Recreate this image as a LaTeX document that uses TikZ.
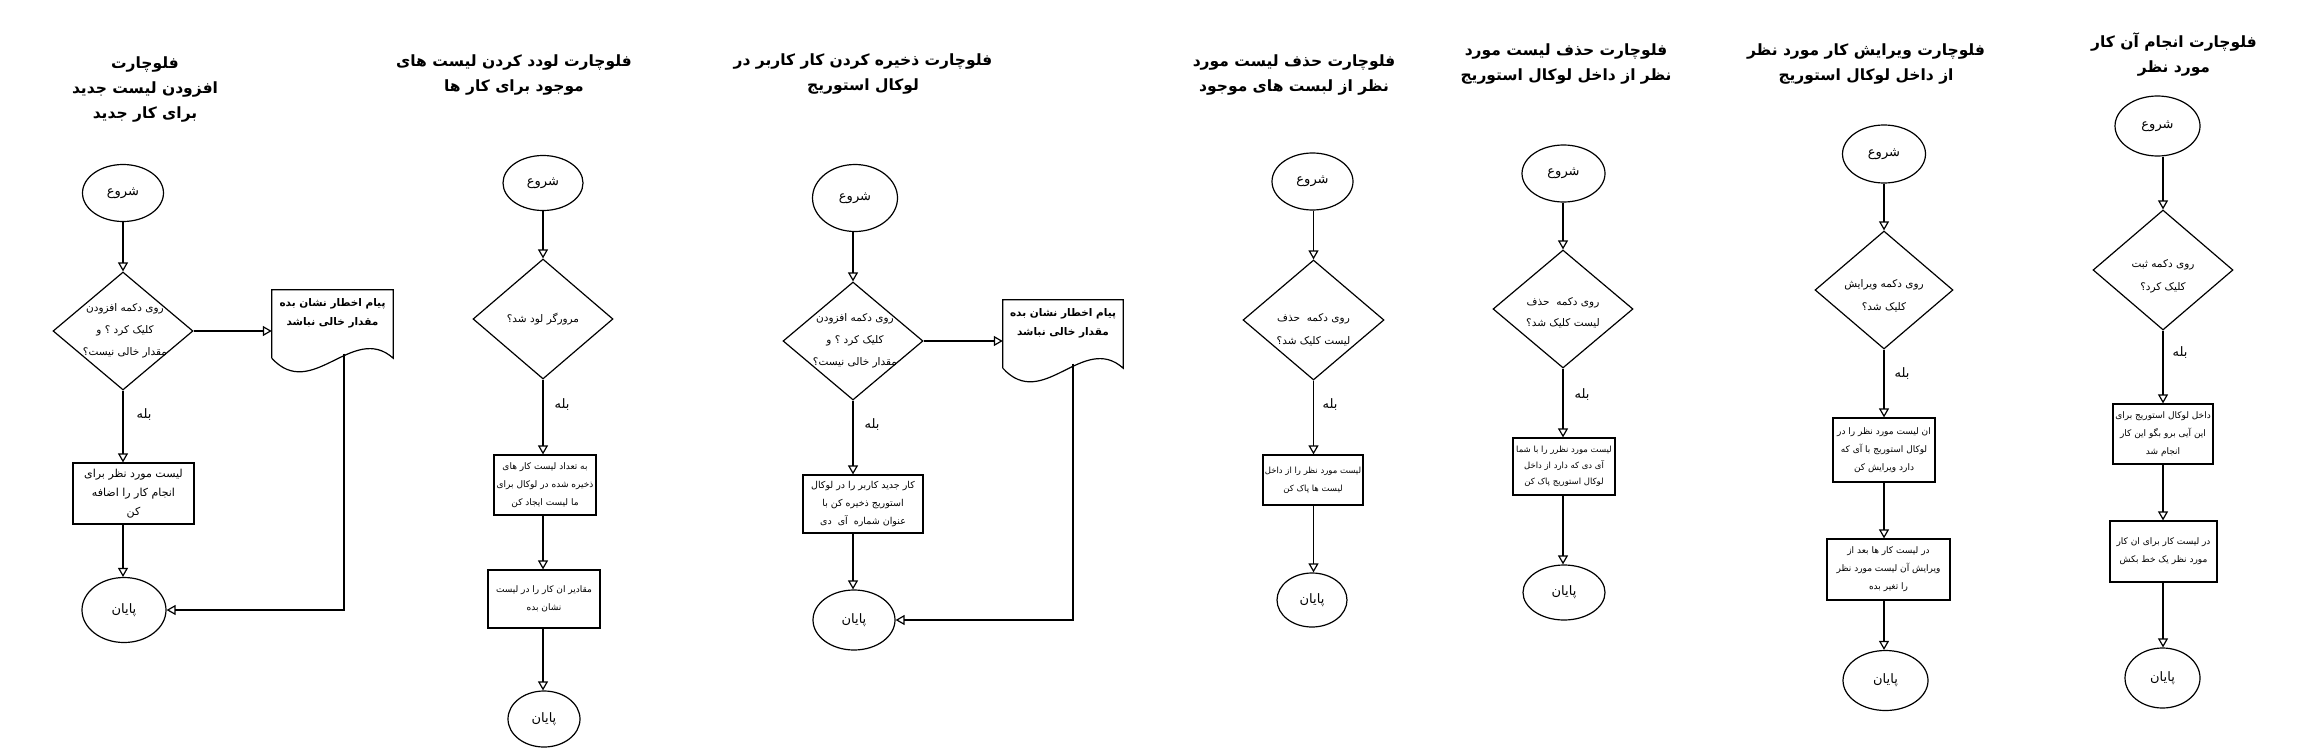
\documentclass[tikz,border=0pt]{standalone}
\usepackage{fontspec}
\usetikzlibrary{shapes.geometric,arrows.meta,calc}
\newfontfamily\fafont[Script=Arabic]{DejaVu Sans}
\TeXXeTstate=1
\newcommand{\prs}[1]{\beginR #1\endR}
\newcommand{\docshape}[1]{%
  \draw[line width=1.2pt] ($(#1.south west)+(0,-12)$) -- (#1.north west) -- (#1.north east)
    -- ($(#1.south east)+(0,-12)$) .. controls +(-40,-36) and +(40,44) .. ($(#1.south west)+(0,-12)$);}
\begin{document}
\begin{tikzpicture}[x=1pt,y=-1pt,
  arr/.style={line width=1.2pt,-{Triangle[open,length=9pt,width=10pt,line width=1.2pt]}},
  term/.style={ellipse,draw,line width=1.2pt,inner sep=0pt,font=\fafont\fontsize{13}{15}\selectfont},
  dec/.style={diamond,draw,line width=1.2pt,inner sep=0pt},
  dtxt/.style={align=center,inner sep=0pt,font=\fafont\fontsize{10.5}{22}\selectfont},
  proc/.style={rectangle,draw,line width=1.2pt,inner sep=0pt,align=center,font=\fafont\fontsize{9}{18}\selectfont},
  docb/.style={rectangle,inner sep=0pt},
  dctxt/.style={align=center,inner sep=0pt,font=\fafont\bfseries\fontsize{10.5}{19}\selectfont},
  ttl/.style={align=center,inner sep=0pt,font=\fafont\bfseries\fontsize{15.5}{25}\selectfont},
  yeslbl/.style={inner sep=0pt,font=\fafont\fontsize{13}{15}\selectfont}]
\useasboundingbox[fill=white] (0,0) rectangle (2301,752);

% ---------- chart 1 ----------
\node[ttl] (t1) at (145,90) {\prs{فلوچارت}\\\prs{افزودن لیست جدید}\\\prs{برای کار جدید}};
\node[term,minimum width=81pt,minimum height=57pt] (s1) at (123,193) {\prs{شروع}};
\node[dec,minimum width=140pt,minimum height=118pt] (d1) at (123,331) {};
\node[dtxt] (d1t) at (125,331) {\prs{روی دکمه افزودن}\\\prs{کلیک کرد ؟ و}\\\prs{مقدار خالی نیست؟}};
\node[docb,minimum width=121pt,minimum height=80pt] (doc1) at (332.5,330) {};
\docshape{doc1}
\node[dctxt,anchor=north] (doc1t) at ([yshift=-9pt]doc1.north) {\prs{پیام اخطار نشان بده}\\\prs{مقدار خالی نباشد}};
\node[yeslbl] (y1) at (144,415) {\prs{بله}};
\node[proc,minimum width=121pt,minimum height=61pt,font=\fafont\fontsize{11}{19}\selectfont] (b1) at (133.5,493.5) {\prs{لیست مورد نظر برای}\\\prs{انجام کار را اضافه}\\\prs{کن}};
\node[term,minimum width=84pt,minimum height=65pt] (e1) at (124,610) {\prs{پایان}};
\coordinate (r1) at (344,353.5);
\draw[arr] (s1.south -| d1) -- (d1.north);
\draw[arr] (d1.east) -- (d1.east -| doc1.west);
\draw[arr] (d1.south) -- (d1.south |- b1.north);
\draw[arr] (b1.south -| d1) -- (d1 |- e1.north);
\draw[arr] (r1) |- (e1);

% ---------- chart 2 ----------
\node[ttl] (t2) at (514,75) {\prs{فلوچارت لودد کردن لیست های}\\\prs{موجود برای کار ها}};
\node[term,minimum width=80pt,minimum height=55pt] (s2) at (543,183) {\prs{شروع}};
\node[dec,minimum width=140pt,minimum height=120pt] (d2) at (543,319) {};
\node[dtxt] (d2t) at (543,319) {\prs{مرورگر لود شد؟}};
\node[yeslbl] (y2) at (562,405) {\prs{بله}};
\node[proc,minimum width=102pt,minimum height=60pt] (b2a) at (545,485) {\prs{به تعداد لیست کار های}\\\prs{ذخیره شده در لوکال برای}\\\prs{ما لیست ایجاد کن}};
\node[proc,minimum width=112pt,minimum height=58pt] (b2b) at (544,599) {\prs{مقادیر ان کار را در لیست}\\\prs{نشان بده}};
\node[term,minimum width=72pt,minimum height=56pt] (e2) at (544,719) {\prs{پایان}};
\draw[arr] (s2.south -| d2) -- (d2.north);
\draw[arr] (d2.south) -- (d2.south |- b2a.north);
\draw[arr] (b2a.south -| d2) -- (d2 |- b2b.north);
\draw[arr] (b2b.south -| d2) -- (d2 |- e2.north);

% ---------- chart 3 ----------
\node[ttl] (t3) at (863,74) {\prs{فلوچارت ذخیره کردن کار کاربر در}\\\prs{لوکال استوریج}};
\node[term,minimum width=85pt,minimum height=67pt] (s3) at (855,198) {\prs{شروع}};
\node[dec,minimum width=140pt,minimum height=118pt] (d3) at (853,341) {};
\node[dtxt] (d3t) at (855,341) {\prs{روی دکمه افزودن}\\\prs{کلیک کرد ؟ و}\\\prs{مقدار خالی نیست؟}};
\node[docb,minimum width=120pt,minimum height=80pt] (doc3) at (1063,340) {};
\docshape{doc3}
\node[dctxt,anchor=north] (doc3t) at ([yshift=-9pt]doc3.north) {\prs{پیام اخطار نشان بده}\\\prs{مقدار خالی نباشد}};
\node[yeslbl] (y3) at (872,425) {\prs{بله}};
\node[proc,minimum width=120pt,minimum height=58pt,font=\fafont\fontsize{9.5}{18}\selectfont] (b3) at (863,504) {\prs{کار جدید کاربر را در لوکال}\\\prs{استوریج ذخیره کن با}\\\prs{عنوان شماره \ آی \ دی}};
\node[term,minimum width=82pt,minimum height=60pt] (e3) at (854,620) {\prs{پایان}};
\coordinate (r3) at (1073,363.5);
\draw[arr] (s3.south -| d3) -- (d3.north);
\draw[arr] (d3.east) -- (d3.east -| doc3.west);
\draw[arr] (d3.south) -- (d3.south |- b3.north);
\draw[arr] (b3.south -| d3) -- (d3 |- e3.north);
\draw[arr] (r3) |- (e3);

% ---------- chart 4 ----------
\node[ttl] (t4) at (1294,75) {\prs{فلوچارت حذف لیست مورد}\\\prs{نظر از لبست های موجود}};
\node[term,minimum width=81pt,minimum height=57pt] (s4) at (1312.5,181.5) {\prs{شروع}};
\node[dec,minimum width=141pt,minimum height=120pt] (d4) at (1313.5,320) {};
\node[dtxt,font=\fafont\fontsize{10.5}{23}\selectfont] (d4t) at (1313.5,330) {\prs{روی دکمه \ حذف}\\\prs{لیست کلیک شد؟}};
\node[yeslbl] (y4) at (1330,405) {\prs{بله}};
\node[proc,minimum width=100pt,minimum height=50pt,font=\fafont\fontsize{8.5}{18}\selectfont] (b4) at (1313,480) {\prs{لیست مورد نظر را از داخل}\\\prs{لیست ها پاک کن}};
\node[term,minimum width=70pt,minimum height=54pt] (e4) at (1312,600) {\prs{پایان}};
\draw[arr] (s4.south -| d4) -- (d4.north);
\draw[arr] (d4.south) -- (d4.south |- b4.north);
\draw[arr] (b4.south -| d4) -- (d4 |- e4.north);

% ---------- chart 5 ----------
\node[ttl] (t5) at (1566,64) {\prs{فلوچارت حذف لیست مورد}\\\prs{نظر از داخل لوکال استوریج}};
\node[term,minimum width=83pt,minimum height=57pt] (s5) at (1563.5,173.5) {\prs{شروع}};
\node[dec,minimum width=140pt,minimum height=118pt] (d5) at (1563,309) {};
\node[dtxt,font=\fafont\fontsize{10.5}{21}\selectfont] (d5t) at (1563,313) {\prs{روی دکمه \ حذف}\\\prs{لیست کلیک شد؟}};
\node[yeslbl] (y5) at (1582,395) {\prs{بله}};
\node[proc,minimum width=102pt,minimum height=57pt,font=\fafont\fontsize{8.5}{16}\selectfont] (b5) at (1564,466.5) {\prs{لیست مورد نظرر را با شما}\\\prs{آی دی که دارد از داخل}\\\prs{لوکال استوریج پاک کن}};
\node[term,minimum width=82pt,minimum height=55pt] (e5) at (1564,592.5) {\prs{پایان}};
\draw[arr] (s5.south -| d5) -- (d5.north);
\draw[arr] (d5.south) -- (d5.south |- b5.north);
\draw[arr] (b5.south -| d5) -- (d5 |- e5.north);

% ---------- chart 6 ----------
\node[ttl] (t6) at (1866,64) {\prs{فلوچارت ویرایش کار مورد نظر}\\\prs{از داخل لوکال استوریج}};
\node[term,minimum width=83pt,minimum height=58pt] (s6) at (1884,154) {\prs{شروع}};
\node[dec,minimum width=138pt,minimum height=118pt] (d6) at (1884,290) {};
\node[dtxt,font=\fafont\fontsize{10.5}{23}\selectfont] (d6t) at (1884,296) {\prs{روی دکمه ویرایش}\\\prs{کلیک شد؟}};
\node[yeslbl] (y6) at (1902,374) {\prs{بله}};
\node[proc,minimum width=102pt,minimum height=64pt] (b6a) at (1884,450) {\prs{ان لیست مورد نظر را در}\\\prs{لوکال استوریج با آی که}\\\prs{دارد ویرایش کن}};
\node[proc,minimum width=123pt,minimum height=61pt] (b6b) at (1888.5,569.5) {\prs{در لیست کار ها بعد از}\\\prs{ویرایش آن لیست مورد نظر}\\\prs{را تغیر بده}};
\node[term,minimum width=85pt,minimum height=60pt] (e6) at (1885.5,680.5) {\prs{پایان}};
\draw[arr] (s6.south -| d6) -- (d6.north);
\draw[arr] (d6.south) -- (d6.south |- b6a.north);
\draw[arr] (b6a.south -| d6) -- (d6 |- b6b.north);
\draw[arr] (b6b.south -| d6) -- (d6 |- e6.north);

% ---------- chart 7 ----------
\node[ttl] (t7) at (2174,54) {\prs{فلوچارت انجام آن کار}\\\prs{مورد نظر}};
\node[term,minimum width=85pt,minimum height=60pt] (s7) at (2157.5,126) {\prs{شروع}};
\node[dec,minimum width=140pt,minimum height=120pt] (d7) at (2163,270) {};
\node[dtxt,font=\fafont\fontsize{10.5}{23}\selectfont] (d7t) at (2163,276) {\prs{روی دکمه ثبت}\\\prs{کلیک کرد؟}};
\node[yeslbl] (y7) at (2180,353) {\prs{بله}};
\node[proc,minimum width=100pt,minimum height=60pt] (b7a) at (2163,434) {\prs{داخل لوکال استوریج برای}\\\prs{این آیی برو بگو این کار}\\\prs{انجام شد}};
\node[proc,minimum width=107pt,minimum height=61pt] (b7b) at (2163.5,551.5) {\prs{در لیست کار برای ان کار}\\\prs{مورد نظر یک خط بکش}};
\node[term,minimum width=75pt,minimum height=60pt] (e7) at (2162.5,678) {\prs{پایان}};
\draw[arr] (s7.south -| d7) -- (d7.north);
\draw[arr] (d7.south) -- (d7.south |- b7a.north);
\draw[arr] (b7a.south -| d7) -- (d7 |- b7b.north);
\draw[arr] (b7b.south -| d7) -- (d7 |- e7.north);
\end{tikzpicture}
\end{document}
